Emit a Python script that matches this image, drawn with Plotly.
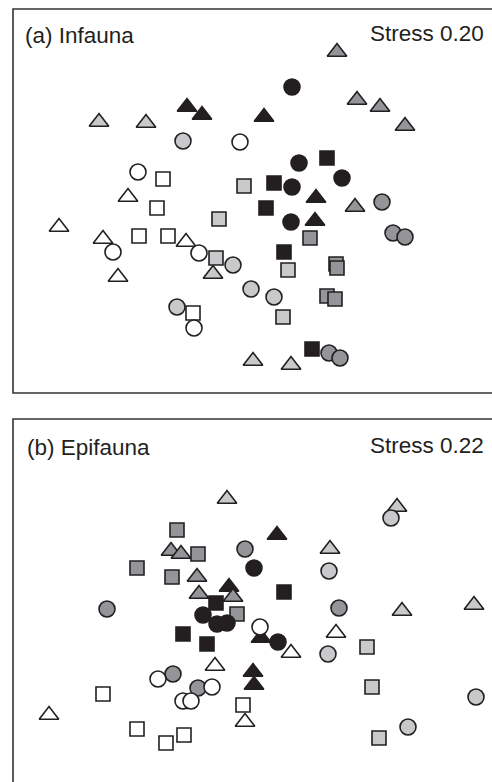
import plotly.graph_objects as go

# ---------------- data (nMDS ordination coordinates) ----------------
# shade codes: W = white, L = light grey, M = mid grey, B = black
# Panel (a) Infauna
A_X = [0.42, 0.49, 0.92, 0.42, 0.41,
       0.77, 0.24, 0.16, 0.34, 0.62,
       -0.63, -0.48, 0.14, 0.66, 0.65,
       1.32, 1.43, 1.55, 0.79, 0.90,
       0.60, 0.86, 0.87, 0.77, 0.85,
       0.87, 1.07, 1.30, 1.55, 1.05,
       -0.67, -0.17, 0.01, 0.24, -0.73,
       -0.06, -0.31, -0.34, 0.38, 0.33,
       -1.51, -1.04, -0.37, 0.03, 0.41,
       -0.10, -1.12, -1.37, -0.51, -0.56,
       -0.87, -0.93, -1.11, -0.82, -0.57,
       -1.22, -1.91, -1.47, -0.64, -1.32]
A_Y = [1.13, 0.37, 0.22, 0.13, -0.22,
       0.42, 0.17, -0.08, -0.52, -1.49,
       0.93, 0.85, 0.83, 0.02, -0.21,
       -0.02, -0.33, -0.37, -1.53, -1.58,
       -0.38, -0.64, -0.68, -0.96, -0.99,
       1.48, 1.00, 0.93, 0.74, -0.07,
       0.59, -0.65, -0.89, -0.97, -1.07,
       0.14, -0.19, -0.58, -0.70, -1.17,
       0.78, 0.77, -0.74, -1.61, -1.65,
       0.58, 0.28, -0.52, -0.53, -1.28,
       0.21, -0.08, -0.36, -0.36, -1.13,
       0.03, -0.27, -0.39, -0.42, -0.77]
A_SHADE = (["B"] * 15) + (["M"] * 15) + (["L"] * 15) + (["W"] * 15)
A_SHAPE = (["circle"] * 5 + ["square"] * 5 + ["triangle"] * 5) * 4

# Panel (b) Epifauna
B_X = [0.04, -0.47, -0.33, -0.23, 0.28,
       0.34, -0.34, -0.67, -0.43,
       0.27, -0.21, 0.11, 0.03, 0.04,
       -0.05, -1.43, 0.89, -0.77, -0.52,
       -0.73, -0.52, -1.13, -0.78, -0.13,
       -0.79, -0.69, -0.53, -0.51, -0.17,
       1.41, 0.79, 0.78, 2.26, 1.58,
       1.17, 1.22, 1.29,
       -0.23, 1.47, 0.80, 1.52, 2.24,
       0.10, -0.92, -0.38, -0.67, -0.59,
       -1.47, -0.07, -1.13, -0.66, -0.84,
       -0.35, -2.01, -0.05, 0.41, 0.86]
B_Y = [0.27, -0.20, -0.29, -0.28, -0.47,
       0.03, -0.08, -0.39, -0.49,
       0.60, 0.08, -0.43, -0.77, -0.90,
       0.46, -0.14, -0.13, -0.79, -0.93,
       0.65, 0.41, 0.27, 0.18, -0.19,
       0.44, 0.41, 0.18, 0.01, -0.02,
       0.77, 0.24, -0.59, -1.02, -1.32,
       -0.52, -0.92, -1.43,
       0.96, 0.88, 0.46, -0.16, -0.10,
       -0.32, -0.84, -0.92, -1.06, -1.06,
       -0.99, -1.10, -1.34, -1.40, -1.48,
       -0.71, -1.20, -1.27, -0.58, -0.38]
B_SHADE = (["B"] * 14) + (["M"] * 15) + (["L"] * 13) + (["W"] * 15)
B_SHAPE = (["circle"] * 5 + ["square"] * 4 + ["triangle"] * 5 +
           ["circle"] * 5 + ["square"] * 5 + ["triangle"] * 5 +
           ["circle"] * 5 + ["square"] * 3 + ["triangle"] * 5 +
           ["circle"] * 5 + ["square"] * 5 + ["triangle"] * 5)

PANEL_LABELS = ["(a) Infauna", "(b) Epifauna"]
STRESS_LABELS = ["Stress 0.20", "Stress 0.22"]

# ---------------- styling ----------------
W, H = 492, 782
INK = "#231f20"
FILL = {"W": "#ffffff", "L": "#c8c9cb", "M": "#939598", "B": "#231f20"}
SYMBOL = {"circle": "circle", "square": "square", "triangle": "triangle-up"}
SIZE = {"circle": 16, "square": 14, "triangle": 17}
DRAW_ORDER = [("triangle", "B"), ("triangle", "W"), ("triangle", "L"), ("triangle", "M"),
              ("square", "W"), ("square", "L"), ("square", "M"), ("square", "B"),
              ("circle", "B"), ("circle", "M"), ("circle", "L"), ("circle", "W")]

def px_x(p):
    return p / W

def px_y(p):
    return 1 - p / H

fig = go.Figure()

panels = [
    (A_X, A_Y, A_SHADE, A_SHAPE, "x", "y"),
    (B_X, B_Y, B_SHADE, B_SHAPE, "x2", "y2"),
]
for xs, ys, shades, shapes, xa, ya in panels:
    for shp, sh in DRAW_ORDER:
        idx = [i for i in range(len(xs)) if shapes[i] == shp and shades[i] == sh]
        if not idx:
            continue
        fig.add_trace(go.Scatter(
            x=[xs[i] for i in idx], y=[ys[i] for i in idx],
            mode="markers", xaxis=xa, yaxis=ya, showlegend=False,
            hoverinfo="skip",
            marker=dict(symbol=SYMBOL[shp], size=SIZE[shp], color=FILL[sh],
                        line=dict(color=INK, width=1.6)),
        ))

xdom = [px_x(13), 1.0]
ax_off = dict(visible=False, showgrid=False, zeroline=False)
fig.update_layout(
    width=W, height=H,
    margin=dict(l=0, r=0, t=0, b=0),
    paper_bgcolor="white", plot_bgcolor="white",
    xaxis=dict(domain=xdom, range=[-2.37, 2.42], **ax_off),
    yaxis=dict(domain=[px_y(393), px_y(9)], range=[-1.93, 1.91], **ax_off),
    xaxis2=dict(domain=xdom, range=[-2.37, 2.42], anchor="y2", **ax_off),
    yaxis2=dict(domain=[0.0, px_y(419)], range=[-1.87, 1.76], anchor="x2", **ax_off),
)

# panel frames (right / bottom edges run past the page edge)
fig.add_shape(type="rect", xref="paper", yref="paper",
              x0=px_x(13), x1=1.05, y0=px_y(393), y1=px_y(9),
              line=dict(color="#333333", width=1.6), layer="below")
fig.add_shape(type="rect", xref="paper", yref="paper",
              x0=px_x(13), x1=1.05, y0=-0.05, y1=px_y(419),
              line=dict(color="#333333", width=1.6), layer="below")

font = dict(family="Liberation Sans, Arial, sans-serif", size=22.5, color=INK)
label_pos = [(23, 35, 486, 34), (25, 447, 486, 445)]
for (lx, ly, sx, sy), lab, st in zip(label_pos, PANEL_LABELS, STRESS_LABELS):
    fig.add_annotation(x=px_x(lx), y=px_y(ly), xref="paper", yref="paper",
                       text=lab, showarrow=False, xanchor="left", yanchor="middle",
                       font=font)
    fig.add_annotation(x=px_x(sx), y=px_y(sy), xref="paper", yref="paper",
                       text=st, showarrow=False, xanchor="right", yanchor="middle",
                       font=font)

fig.write_html(
    "out.html",
    config={"displayModeBar": False, "staticPlot": True},
    post_script="document.body.style.margin='0';document.body.style.overflow='hidden';",
)
